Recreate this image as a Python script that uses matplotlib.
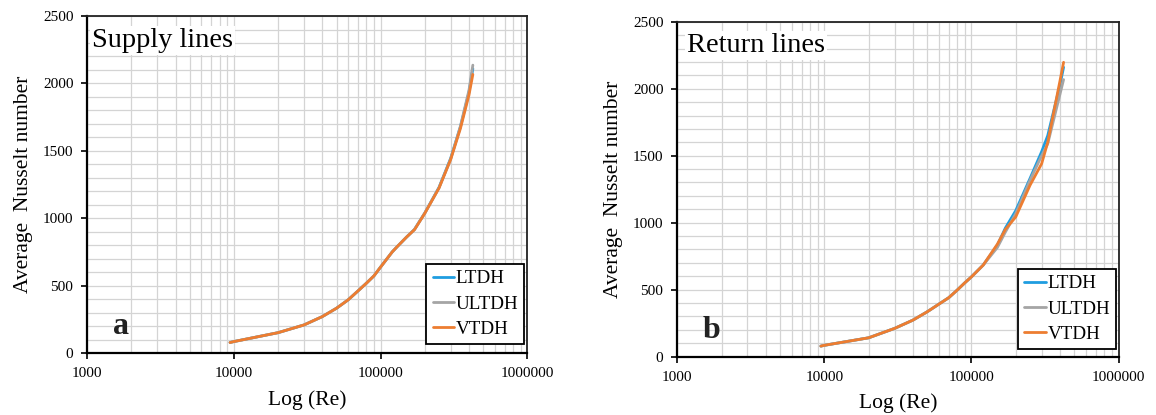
import numpy as np
import matplotlib
matplotlib.use("Agg")
import matplotlib.pyplot as plt
from matplotlib.ticker import FixedLocator, NullFormatter, LogLocator

# ---- data ----
re_supply = [9400, 10000, 20000, 30000, 40000, 50000, 60000, 70000, 80000, 90000,
             100000, 120000, 130000, 150000, 170000, 200000, 250000, 300000, 350000, 400000, 425000]
nu_supply_ltdh = [80, 87, 153, 210, 272, 334, 396, 462, 520, 574,
                  640, 752, 792, 861, 918, 1040, 1230, 1445, 1680, 1935, 2110]
nu_supply_ultdh = [80, 87, 153, 210, 272, 334, 396, 462, 520, 574,
                   640, 752, 792, 861, 918, 1040, 1228, 1440, 1685, 1950, 2136]
nu_supply_vtdh = [80, 87, 153, 210, 272, 334, 396, 462, 520, 574,
                  640, 752, 792, 861, 916, 1038, 1225, 1436, 1668, 1915, 2067]

re_return = [9460, 10000, 20000, 30000, 40000, 50000, 60000, 70000, 80000, 90000,
             100000, 120000, 150000, 170000, 200000, 250000, 300000, 330000, 400000, 423000]
nu_return_ltdh = [79, 85, 141, 211, 273, 335, 392, 440, 497, 551,
                  596, 683, 832, 960, 1090, 1330, 1530, 1650, 2030, 2160]
nu_return_ultdh = [79, 85, 141, 211, 273, 335, 392, 440, 497, 551,
                   596, 683, 815, 930, 1068, 1316, 1500, 1589, 1960, 2068]
nu_return_vtdh = [79, 85, 141, 211, 273, 335, 392, 440, 497, 551,
                  596, 683, 840, 950, 1043, 1279, 1440, 1600, 2060, 2197]

series_names = ["LTDH", "ULTDH", "VTDH"]
series_colors = ["#1f9de0", "#a5a5a5", "#ed7d31"]
panel_titles = ["Supply lines", "Return lines"]
panel_letters = ["a", "b"]
x_ticks = [1000, 10000, 100000, 1000000]
y_ticks = [0, 500, 1000, 1500, 2000, 2500]

plt.rcParams['font.family'] = ['Liberation Serif', 'DejaVu Serif']

fig = plt.figure(figsize=(11.56, 4.15), dpi=100)
axes_rects = [[0.0755, 0.1487, 0.3807, 0.8127], [0.5859, 0.1405, 0.3817, 0.8072]]
title_x = [0.010, 0.022]
legend_anchor = [(0.9925, 0.0276), (0.9943, 0.023)]

panels = [
    (re_supply, [nu_supply_ltdh, nu_supply_ultdh, nu_supply_vtdh]),
    (re_return, [nu_return_ltdh, nu_return_ultdh, nu_return_vtdh]),
]

for i, (rect, (xs, ys)) in enumerate(zip(axes_rects, panels)):
    ax = fig.add_axes(rect)
    for name, color, y in zip(series_names, series_colors, ys):
        ax.plot(xs, y, color=color, lw=2.0, label=name, solid_capstyle='round')
    ax.set_xscale('log')
    ax.set_xlim(1000, 1000000)
    ax.set_ylim(0, 2500)
    ax.xaxis.set_major_locator(FixedLocator(x_ticks))
    ax.set_xticklabels([str(t) for t in x_ticks])
    ax.xaxis.set_minor_locator(LogLocator(base=10, subs=np.arange(2, 10)))
    ax.xaxis.set_minor_formatter(NullFormatter())
    ax.yaxis.set_major_locator(FixedLocator(y_ticks))
    ax.yaxis.set_minor_locator(FixedLocator(np.arange(0, 2501, 100)))
    ax.grid(True, which='both', color='#d4d4d4', lw=0.9)
    ax.set_axisbelow(True)
    ax.tick_params(axis='both', which='major', labelsize=11, direction='out',
                   length=4, width=1.2, pad=6)
    ax.tick_params(axis='both', which='minor', length=0)
    for s in ax.spines.values():
        s.set_color('#222222')
        s.set_linewidth(1.3)
    ax.spines['left'].set_color('black')
    ax.spines['bottom'].set_color('black')
    ax.spines['left'].set_linewidth(1.6)
    ax.spines['bottom'].set_linewidth(1.6)
    ax.set_xlabel("Log (Re)", fontsize=15.5, labelpad=7)
    ax.set_ylabel("Average  Nusselt number", fontsize=15.5, labelpad=7)
    ax.text(title_x[i], 0.965, panel_titles[i], transform=ax.transAxes, fontsize=20.5,
            ha='left', va='top', zorder=2.4,
            bbox=dict(facecolor='white', edgecolor='none', pad=1.5))
    ax.text(0.058, 0.035, panel_letters[i], transform=ax.transAxes, fontsize=23,
            fontweight='bold', ha='left', va='bottom', color='#222222')
    leg = ax.legend(loc='lower right', bbox_to_anchor=legend_anchor[i], fontsize=13.7,
                    frameon=True, fancybox=False, edgecolor='black', framealpha=1,
                    handlelength=1.15, handletextpad=0.05, borderpad=0.32,
                    labelspacing=0.42, borderaxespad=0.0)
    leg.get_frame().set_linewidth(1.3)

fig.savefig("out.png", dpi=100)
